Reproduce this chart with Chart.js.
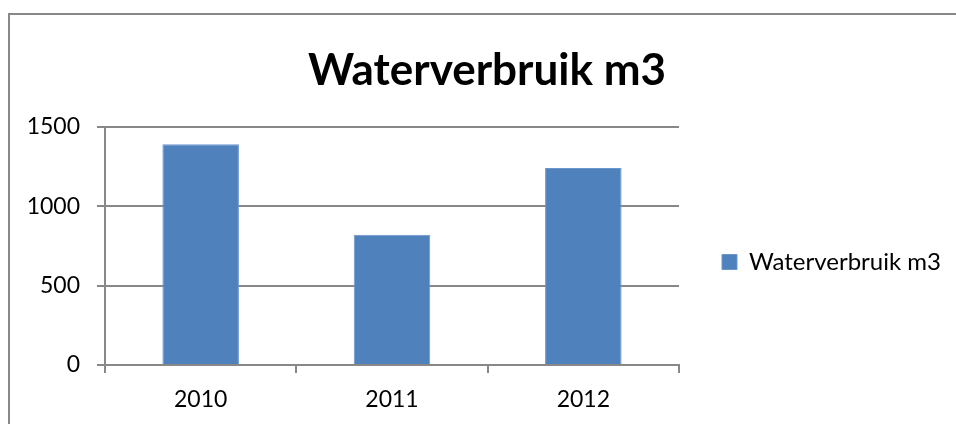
<!DOCTYPE html>
<html>
<head>
<meta charset="utf-8">
<script src="https://cdn.jsdelivr.net/npm/chart.js@4/dist/chart.umd.min.js"></script>
<style>
  html, body { margin:0; padding:0; background:#fff; }
  #wrap { position:relative; width:956px; height:424px; overflow:hidden; }
  #frame { position:absolute; left:8px; top:13px; width:960px; height:430px; border:2px solid #888; box-sizing:border-box; }
  #c { position:absolute; left:0; top:0; }
</style>
</head>
<body>
<div id="wrap">
  <div id="frame"></div>
  <canvas id="c" width="956" height="424"></canvas>
</div>
<script>
const years = ['2010', '2011', '2012'];
const usage = [1390, 820, 1240];
const seriesName = 'Waterverbruik m3';
const yTicks = [0, 500, 1000, 1500];

const FONT = 'Lato, "Open Sans", sans-serif';
const grid = '#888888';

new Chart(document.getElementById('c'), {
  type: 'bar',
  data: {
    labels: years,
    datasets: [{ label: seriesName, data: usage, backgroundColor: '#4f81bd', borderColor: '#6b96cc', borderWidth: 1, barPercentage: 0.8, categoryPercentage: 0.5 }]
  },
  options: {
    responsive: false, animation: false,
    layout: { padding: { top: 34, right: 8, bottom: 0, left: 26 } },
    plugins: {
      title: { display: true, text: seriesName, color: '#000', font: { family: FONT, size: 44, weight: 'bold' }, padding: { top: 10, bottom: 30 } },
      legend: { position: 'right', align: 'center', maxWidth: 269,
        // empty title only pushes the single entry down a bit
        title: { display: true, text: ' ', font: { size: 10 }, padding: 27 },
        labels: { color: '#000', font: { family: FONT, size: 24 }, boxWidth: 15, boxHeight: 15, padding: 43 } },
      tooltip: { enabled: false }
    },
    scales: {
      x: {
        grid: { display: true, offset: true, drawOnChartArea: false, drawTicks: true, tickLength: 8, color: grid, lineWidth: 2 },
        border: { display: true, color: grid, width: 2 },
        ticks: { color: '#000', font: { family: FONT, size: 23 }, padding: 13 },
        afterFit: s => { s.height = 59; }
      },
      y: {
        min: 0, max: 1500,
        afterBuildTicks: s => { s.ticks = yTicks.map(v => ({ value: v })); },
        grid: { color: grid, lineWidth: 2, tickLength: 8 },
        border: { display: true, color: grid, width: 2 },
        ticks: { color: '#000', font: { family: FONT, size: 23 }, padding: 17, callback: v => String(v) },
        afterFit: s => { s.width = 79; }
      }
    }
  }
});
</script>
</body>
</html>
